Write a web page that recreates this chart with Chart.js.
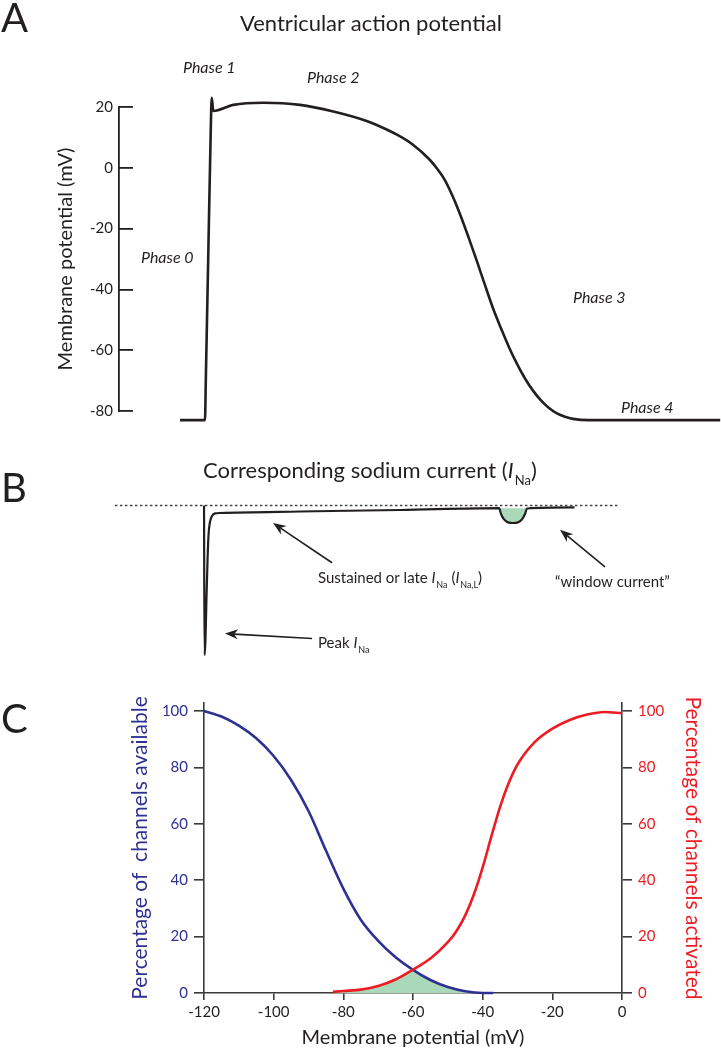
<!DOCTYPE html>
<html>
<head>
<meta charset="utf-8">
<script src="https://cdn.jsdelivr.net/npm/chart.js@4.4.1/dist/chart.umd.min.js"></script>
<style>
    html, body { margin: 0; padding: 0; background: #fff; }
    #page { position: relative; width: 721px; height: 1050px; }
    canvas { position: absolute; left: 0; }
</style>
</head>
<body>
<div id="page">
    <canvas id="ap-chart" width="721" height="440" style="top:0"></canvas>
    <canvas id="ina-chart" width="721" height="220" style="top:440px"></canvas>
    <canvas id="gate-chart" width="721" height="390" style="top:660px"></canvas>
</div>
<script>
// ---- Panel A: ventricular action potential (time in ms, voltage in mV)
const apTime = [-15.6, 0, 0.5, 2, 3.5, 4.2, 5.2, 17.7, 36.4, 59.4, 80.2, 101, 109.4, 120, 130, 140, 145, 150, 155, 160, 165, 170, 175, 180, 185, 190, 195, 200, 205, 210, 215, 220, 225, 230, 240, 322];
const apVoltage = [-83, -83, -70, -30, 10, 23, 18.7, 20.7, 21.4, 20.7, 18.5, 15.4, 13.6, 10.9, 7.6, 2.9, -0.2, -4.1, -9.6, -16.1, -23.3, -30.8, -38.6, -46.2, -52.8, -59, -64.5, -69.3, -73.3, -76.5, -79, -80.8, -81.9, -82.6, -83, -83];
const apTicks = [20, 0, -20, -40, -60, -80];

// ---- Panel B: sodium current (arbitrary units, peak = -100)
const inaTime = [-0.6, -0.3, 0.3, 0.9, 1.6, 2.2, 3.1, 4.4, 6.3, 9.4, 59.4, 121.9, 183.8, 185.0, 186.9, 189.4, 192.5, 195.6, 198.1, 200.0, 201.3, 231.0];
const inaCurrent = [0, -100, -89.7, -63, -36, -19.7, -11, -7, -5.3, -5, -4, -3, -1.7, -5.7, -9.3, -11.3, -11.7, -11.3, -9.3, -5.7, -2, -1.3];
const bumpTime = [183.8, 185.0, 186.9, 189.4, 192.5, 195.6, 198.1, 200.0, 201.3];
const bumpCurrent = [-1.7, -5.7, -9.3, -11.3, -11.7, -11.3, -9.3, -5.7, -2];
const zeroTime = [-56.3, 259.4];
const zeroCurrent = [0, 0];

// ---- Panel C: steady-state availability / activation (mV, %)
const availVoltage = [-120, -115, -110, -105, -100, -95, -90, -85, -80, -75, -70, -65, -60, -55, -50, -45, -40, -37];
const availPct = [100, 98, 94.8, 90.3, 84, 75.5, 64.5, 50.5, 37, 26, 18.5, 12.7, 8.2, 4.6, 2.1, 0.6, 0, 0];
const actVoltage = [-83, -80, -75, -70, -65, -60, -55, -50, -47.5, -45, -42.5, -40, -37.5, -35, -32.5, -30, -25, -20, -15, -10, -5, 0];
const actPct = [0.4, 0.7, 1.2, 2.5, 4.8, 8.3, 12.2, 18, 22, 27.5, 35, 44.5, 55.5, 66, 74.5, 81, 89, 93.7, 96.8, 98.7, 99.6, 99.2];
const windowVoltage = [-83, -80, -77.5, -75, -72.5, -70, -67.5, -65, -62.5, -60, -57.5, -55, -52.5, -50, -47.5, -45, -42.5, -40];
const windowPct = [0.4, 0.7, 0.9, 1.2, 1.8, 2.5, 3.6, 4.8, 6.4, 8.2, 6.2, 4.6, 3.2, 2.1, 1.2, 0.6, 0.2, 0];
const gateTicks = [-120, -100, -80, -60, -40, -20, 0];

const ink = '#231f20';
const blue = '#2e3192';
const red = '#ed1c24';
const green = '#a9d9b8';
const family = 'Lato';

const pts = (xs, ys) => xs.map((x, i) => ({ x, y: ys[i] }));

function fontFor(style, size) {
    if (style === 'i') return `italic ${size}px ${family}`;
    if (style === 's') return `${Math.round(size * 0.58)}px ${family}`;
    return `${size}px ${family}`;
}

function drawRich(ctx, item, top) {
    const size = item.size;
    const parts = item.parts || [[item.text, item.style || 'n']];
    let x = item.x;
    const y = item.y - top;
    ctx.save();
    ctx.fillStyle = item.color || ink;
    ctx.textBaseline = 'alphabetic';
    ctx.textAlign = 'left';
    parts.forEach(([t, st]) => {
        ctx.font = fontFor(st, size);
        ctx.fillText(t, x, st === 's' ? y + size * 0.3 : y);
        x += ctx.measureText(t).width + (st === 'i' ? size * 0.05 : 0);
    });
    ctx.restore();
}

function drawArrow(chart, a) {
    const { x: xs, y: ys } = chart.scales;
    const x1 = xs.getPixelForValue(a.from[0]), y1 = ys.getPixelForValue(a.from[1]);
    const x2 = xs.getPixelForValue(a.to[0]), y2 = ys.getPixelForValue(a.to[1]);
    const ang = Math.atan2(y2 - y1, x2 - x1);
    const head = 13, half = 5;
    const ctx = chart.ctx;
    ctx.save();
    ctx.strokeStyle = ink;
    ctx.fillStyle = ink;
    ctx.lineWidth = 1.6;
    ctx.beginPath();
    ctx.moveTo(x1, y1);
    ctx.lineTo(x2 - Math.cos(ang) * head * 0.7, y2 - Math.sin(ang) * head * 0.7);
    ctx.stroke();
    ctx.beginPath();
    ctx.moveTo(x2, y2);
    ctx.lineTo(x2 - Math.cos(ang) * head - Math.sin(ang) * half, y2 - Math.sin(ang) * head + Math.cos(ang) * half);
    ctx.lineTo(x2 - Math.cos(ang) * head * 0.7, y2 - Math.sin(ang) * head * 0.7);
    ctx.lineTo(x2 - Math.cos(ang) * head + Math.sin(ang) * half, y2 - Math.sin(ang) * head - Math.cos(ang) * half);
    ctx.closePath();
    ctx.fill();
    ctx.restore();
}

const textPlugin = {
    id: 'pageText',
    afterDraw(chart, args, opts) {
        (opts.items || []).forEach(item => drawRich(chart.ctx, item, opts.top || 0));
        (opts.arrows || []).forEach(a => drawArrow(chart, a));
    }
};

const base = {
    responsive: false,
    animation: false,
    events: [],
};

/**
 * Panel A
 */
new Chart(document.getElementById('ap-chart'), {
    type: 'line',
    data: {
        datasets: [{
            data: pts(apTime, apVoltage),
            borderColor: ink,
            borderWidth: 2.6,
            pointRadius: 0,
            cubicInterpolationMode: 'monotone',
            clip: false
        }]
    },
    options: {
        ...base,
        layout: { padding: { top: 107, bottom: 28, left: 0, right: 0 } },
        plugins: {
            legend: { display: false },
            tooltip: { enabled: false },
            pageText: {
                top: 0,
                items: [
                    { text: 'A', x: 1, y: 32, size: 40 },
                    { text: 'Ventricular action potential', x: 240, y: 31, size: 22 },
                    { text: 'Phase 1', style: 'i', x: 183, y: 73, size: 16 },
                    { text: 'Phase 2', style: 'i', x: 307, y: 83, size: 16 },
                    { text: 'Phase 0', style: 'i', x: 141, y: 263, size: 16 },
                    { text: 'Phase 3', style: 'i', x: 573, y: 303, size: 16 },
                    { text: 'Phase 4', style: 'i', x: 621, y: 413, size: 16 }
                ]
            }
        },
        scales: {
            x: { type: 'linear', display: false, min: -53.75, max: 322.5 },
            y: {
                min: -80,
                max: 20,
                afterFit: s => { s.width = 119; },
                afterBuildTicks: s => { s.ticks = apTicks.map(v => ({ value: v })); },
                border: { color: ink, width: 1.8 },
                grid: { drawOnChartArea: false, tickLength: -14, tickColor: ink, lineWidth: 1.8 },
                ticks: { padding: 20, color: ink, font: { family, size: 15 } },
                title: {
                    display: true,
                    text: 'Membrane potential (mV)',
                    color: ink,
                    font: { family, size: 20 },
                    padding: { top: 54, bottom: 0 }
                }
            }
        }
    },
    plugins: [textPlugin]
});

/**
 * Panel B
 */
new Chart(document.getElementById('ina-chart'), {
    type: 'line',
    data: {
        datasets: [
            {
                data: pts(zeroTime, zeroCurrent),
                borderColor: '#444',
                borderWidth: 1.3,
                borderDash: [2.5, 2.5],
                pointRadius: 0,
                clip: false,
                order: 3
            },
            {
                data: pts(bumpTime, bumpCurrent),
                borderWidth: 0,
                pointRadius: 0,
                backgroundColor: green,
                fill: { value: -1.8 },
                cubicInterpolationMode: 'monotone',
                clip: false,
                order: 2
            },
            {
                data: pts(inaTime, inaCurrent),
                borderColor: ink,
                borderWidth: 2.2,
                pointRadius: 0,
                cubicInterpolationMode: 'monotone',
                clip: false,
                order: 0
            }
        ]
    },
    options: {
        ...base,
        layout: { padding: { top: 65.5, bottom: 5, left: 119, right: 0 } },
        plugins: {
            legend: { display: false },
            tooltip: { enabled: false },
            pageText: {
                top: 440,
                items: [
                    { text: 'B', x: 1, y: 502, size: 40 },
                    { x: 203, y: 478, size: 22, parts: [['Corresponding sodium current (', 'n'], ['I', 'i'], ['Na', 's'], [')', 'n']] },
                    { x: 318, y: 583, size: 15, parts: [['Sustained or late ', 'n'], ['I', 'i'], ['Na', 's'], [' (', 'n'], ['I', 'i'], ['Na,L', 's'], [')', 'n']] },
                    { text: '\u201Cwindow current\u201D', x: 555, y: 587, size: 15 },
                    { x: 318, y: 648, size: 15, parts: [['Peak ', 'n'], ['I', 'i'], ['Na', 's']] }
                ],
                arrows: [
                    { from: [79.4, -38.3], to: [42.5, -11.7] },
                    { from: [66.9, -89], to: [12.5, -85.7] },
                    { from: [250, -41], to: [221.9, -16.3] }
                ]
            }
        },
        scales: {
            x: { type: 'linear', display: false, min: -53.75, max: 322.5 },
            y: { display: false, min: -100, max: 0 }
        }
    },
    plugins: [textPlugin]
});

/**
 * Panel C
 */
const gateAxis = (color, width, titleText, titlePad) => ({
    min: 0,
    max: 102.8,
    afterFit: s => { s.width = width; },
    border: { color: '#3a3a3a', width: 1.6 },
    grid: { drawOnChartArea: false, tickLength: 10, tickColor: '#3a3a3a', lineWidth: 1.6 },
    ticks: { stepSize: 20, includeBounds: false, padding: 6, color, font: { family, size: 15 } },
    title: { display: true, text: titleText, color, font: { family, size: 21 }, padding: { top: titlePad, bottom: 0 } }
});

new Chart(document.getElementById('gate-chart'), {
    type: 'line',
    data: {
        datasets: [
            {
                data: pts(windowVoltage, windowPct),
                borderWidth: 0,
                pointRadius: 0,
                backgroundColor: green,
                fill: 'origin',
                tension: 0,
                order: 3
            },
            {
                label: 'Available',
                data: pts(availVoltage, availPct),
                borderColor: blue,
                borderWidth: 2.6,
                pointRadius: 0,
                cubicInterpolationMode: 'monotone',
                clip: false,
                order: 1
            },
            {
                label: 'Activated',
                data: pts(actVoltage, actPct),
                yAxisID: 'y2',
                borderColor: red,
                borderWidth: 2.6,
                pointRadius: 0,
                cubicInterpolationMode: 'monotone',
                clip: false,
                order: 0
            }
        ]
    },
    options: {
        ...base,
        layout: { padding: { top: 43, bottom: 0, left: 0, right: 0 } },
        plugins: {
            legend: { display: false },
            tooltip: { enabled: false },
            pageText: {
                top: 660,
                items: [{ text: 'C', x: 1, y: 733, size: 40 }]
            }
        },
        scales: {
            x: {
                type: 'linear',
                min: -120,
                max: 0,
                afterFit: s => { s.height = 57; },
                afterBuildTicks: s => { s.ticks = gateTicks.map(v => ({ value: v })); },
                border: { color: '#3a3a3a', width: 1.6 },
                grid: { drawOnChartArea: false, tickLength: 7, tickColor: '#3a3a3a', lineWidth: 1.6 },
                ticks: { autoSkip: false, maxRotation: 0, padding: 3, color: ink, font: { family, size: 15 } },
                title: { display: true, text: 'Membrane potential (mV)', color: ink, font: { family, size: 20 }, padding: { top: 0, bottom: 0 } }
            },
            y: { position: 'left', ...gateAxis(blue, 204, 'Percentage of  channels available', 127.4) },
            y2: { position: 'right', ...gateAxis(red, 99, 'Percentage of channels activated', 15.4) }
        }
    },
    plugins: [textPlugin]
});
</script>
</body>
</html>
